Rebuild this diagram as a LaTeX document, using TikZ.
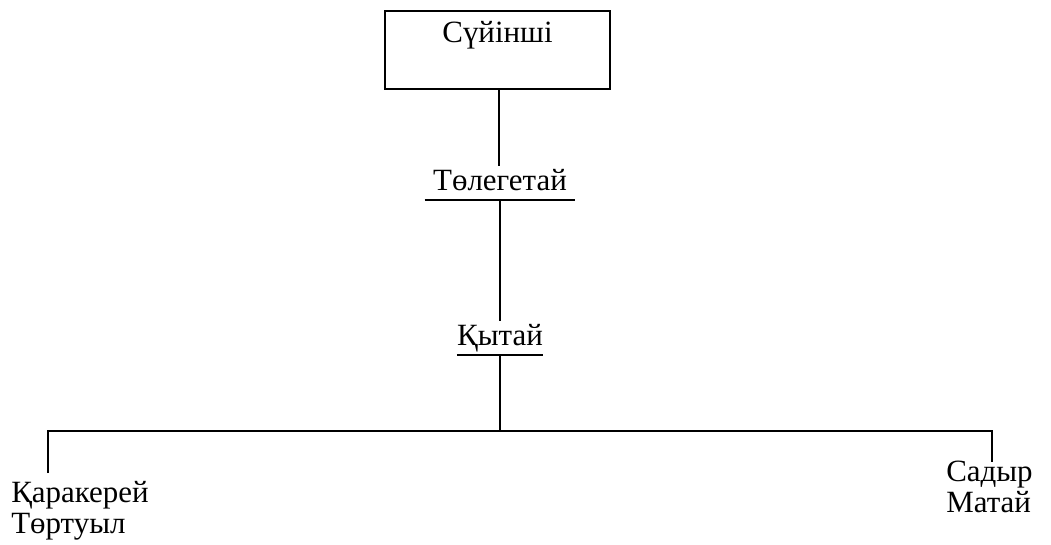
\documentclass[tikz,border=0pt]{standalone}
\usepackage{fontspec}
\setmainfont{Liberation Serif}
\usetikzlibrary{positioning}
\tikzset{
	namebox/.style={draw, line width=1.3pt, minimum width=5.625cm, inner xsep=0pt, inner ysep=0pt, text height=0.8cm, text depth=1.15cm, font=\fontsize{22}{22}\selectfont},
	undername/.style={inner sep=0pt, text height=0.6cm, text depth=0.25cm, font=\fontsize{22}{22}\selectfont},
	leafname/.style={inner sep=0pt, align=left, font=\fontsize{22}{22}\selectfont},
	link/.style={line width=1.3pt}
}

\begin{document}
\begin{tikzpicture}[x=0.025cm, y=-0.025cm]
			%%%%% START %%%%%
			\useasboundingbox (0, 0) rectangle (1051, 545);
			
			\node[namebox, anchor=north] (suy) at (497.5, 10) {Сүйінші};
			
			\node[undername, anchor=base, minimum width=3.75cm] (tol) at (500, 190) {Төлегетай};
			\draw[link] (tol.south west) -- (tol.south east);
			
			\node[undername, anchor=base, minimum width=1.875cm] (kyt) at (500, 345) {Қытай};
			\draw[link] (kyt.south west) -- (kyt.south east);
			
			\node[leafname, anchor=base west] (kar) at (11, 533) {Қаракерей\\Төртуыл};
			\node[leafname, anchor=base west] (sad) at (946, 512) {Садыр\\Матай};
			
			\coordinate (lt) at (48, 431);
			\coordinate (rt) at (992, 431);
			\coordinate (lb) at (48, 473);
			\coordinate (rb) at (992, 462);
			
			\draw[link] (suy.south -| 499, 0) -- (tol.north -| 499, 0);
			\draw[link] (tol.south) -- (kyt.north);
			\draw[link] (kyt.south) -- (kyt.south |- lt);
			\draw[link] (lb) -- (lt) -- (rt) -- (rb);
			
			%%%%% END %%%%%
\end{tikzpicture}
\end{document}
